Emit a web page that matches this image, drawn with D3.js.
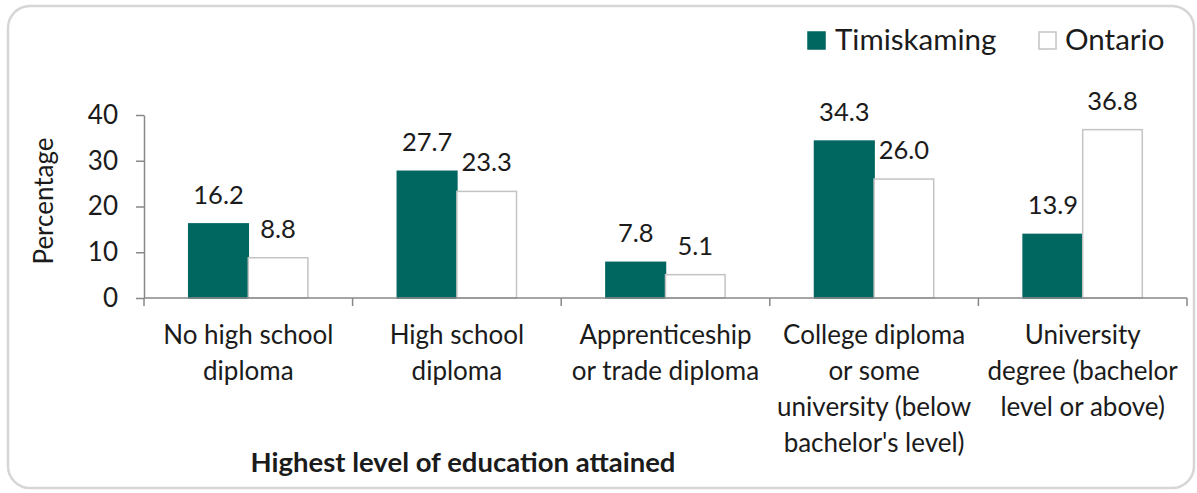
<!DOCTYPE html>
<html>
<head>
<meta charset="utf-8">
<script src="https://cdn.jsdelivr.net/npm/d3@7"></script>
<style>
  html, body { margin: 0; padding: 0; background: #ffffff; }
  svg { display: block; }
  text { font-family: Lato, "Noto Sans", sans-serif; fill: #1b1b1b; }
</style>
</head>
<body>
<svg id="chart" width="1197" height="493"></svg>
<script>
// Education attainment, Timiskaming vs Ontario (percent)
const categories = [
  "No high school\ndiploma",
  "High school\ndiploma",
  "Apprenticeship\nor trade diploma",
  "College diploma\nor some\nuniversity (below\nbachelor's level)",
  "University\ndegree (bachelor\nlevel or above)"
];
const seriesNames = ["Timiskaming", "Ontario"];
const timiskaming = [16.2, 27.7, 7.8, 34.3, 13.9];
const ontario = [8.8, 23.3, 5.1, 26.0, 36.8];
const yTicks = [0, 10, 20, 30, 40];

const colors = { Timiskaming: "#006660", Ontario: "#ffffff" };
const strokes = { Timiskaming: "#006660", Ontario: "#c4c4c4" };
const axisColor = "#888888";

const svg = d3.select("#chart");

// outer frame
svg.append("rect")
  .attr("x", 8).attr("y", 6)
  .attr("width", 1186).attr("height", 482)
  .attr("rx", 22).attr("ry", 22)
  .attr("fill", "#ffffff")
  .attr("stroke", "#d6d6d6")
  .attr("stroke-width", 2.5);

const plot = { left: 144, right: 1187, top: 115, bottom: 298 };

const x0 = d3.scaleBand()
  .domain(categories)
  .range([plot.left, plot.right])
  .padding(0);

const x1 = d3.scaleBand()
  .domain(seriesNames)
  .range([0, x0.bandwidth()])
  .paddingInner(0)
  .paddingOuter(0.75);

const y = d3.scaleLinear()
  .domain([0, 40])
  .range([plot.bottom, plot.top]);

const rows = categories.map((c, i) => ({
  category: c,
  values: [
    { series: "Timiskaming", value: timiskaming[i] },
    { series: "Ontario", value: ontario[i] }
  ]
}));

// bars
const groups = svg.append("g").selectAll("g")
  .data(rows)
  .join("g")
  .attr("transform", d => `translate(${x0(d.category)},0)`);

groups.selectAll("rect")
  .data(d => d.values)
  .join("rect")
  .attr("x", d => x1(d.series))
  .attr("y", d => y(d.value))
  .attr("width", x1.bandwidth())
  .attr("height", d => y(0) - y(d.value))
  .attr("fill", d => colors[d.series])
  .attr("stroke", d => strokes[d.series])
  .attr("stroke-width", 1.5);

// value labels
groups.selectAll("text.value")
  .data(d => d.values)
  .join("text")
  .attr("class", "value")
  .attr("x", d => x1(d.series) + x1.bandwidth() / 2)
  .attr("y", d => y(d.value) - 20)
  .attr("text-anchor", "middle")
  .style("font-size", "25.5px")
  .text(d => d.value.toFixed(1));

// y axis
const yAxis = svg.append("g")
  .attr("transform", `translate(${plot.left},0)`)
  .call(d3.axisLeft(y).tickValues(yTicks).tickSize(8).tickSizeOuter(0).tickPadding(18));
yAxis.select(".domain").attr("stroke", axisColor).attr("stroke-width", 1.5);
yAxis.selectAll(".tick line").attr("stroke", axisColor).attr("stroke-width", 1.5);
yAxis.selectAll(".tick text")
  .style("font-family", "Lato, 'Noto Sans', sans-serif")
  .style("font-size", "26px")
  .attr("fill", "#1b1b1b");

// x axis line and category boundary ticks
const boundaries = categories.map(c => x0(c)).concat([x0.range()[1]]);
const xAxis = svg.append("g");
xAxis.append("line")
  .attr("x1", plot.left).attr("x2", plot.right)
  .attr("y1", y(0)).attr("y2", y(0))
  .attr("stroke", axisColor).attr("stroke-width", 1.5);
xAxis.selectAll("line.tick")
  .data(boundaries)
  .join("line")
  .attr("class", "tick")
  .attr("x1", d => d).attr("x2", d => d)
  .attr("y1", y(0)).attr("y2", y(0) + 8)
  .attr("stroke", axisColor).attr("stroke-width", 1.5);

// category labels
const catLabels = svg.append("g").selectAll("text")
  .data(categories)
  .join("text")
  .attr("text-anchor", "middle")
  .attr("x", d => x0(d) + x0.bandwidth() / 2)
  .attr("y", 344)
  .style("font-size", "26px");
catLabels.selectAll("tspan")
  .data(d => d.split("\n").map(line => ({ line, cx: x0(d) + x0.bandwidth() / 2 })))
  .join("tspan")
  .attr("x", d => d.cx)
  .attr("dy", (d, i) => i === 0 ? 0 : 36)
  .text(d => d.line);

// axis titles
svg.append("text")
  .attr("transform", "translate(53,201) rotate(-90)")
  .attr("text-anchor", "middle")
  .style("font-size", "26px")
  .text("Percentage");

svg.append("text")
  .attr("x", 463).attr("y", 472)
  .attr("text-anchor", "middle")
  .style("font-size", "27.5px")
  .style("font-weight", "bold")
  .text("Highest level of education attained");

// legend
const legendItems = [
  { name: "Timiskaming", sx: 808, tx: 835 },
  { name: "Ontario", sx: 1039, tx: 1065 }
];
const legend = svg.append("g");
legend.selectAll("rect")
  .data(legendItems)
  .join("rect")
  .attr("x", d => d.sx).attr("y", 32)
  .attr("width", 17).attr("height", 17)
  .attr("fill", d => colors[d.name])
  .attr("stroke", d => strokes[d.name])
  .attr("stroke-width", 1.5);
legend.selectAll("text")
  .data(legendItems)
  .join("text")
  .attr("x", d => d.tx).attr("y", 50)
  .style("font-size", "29.5px")
  .text(d => d.name);
</script>
</body>
</html>
